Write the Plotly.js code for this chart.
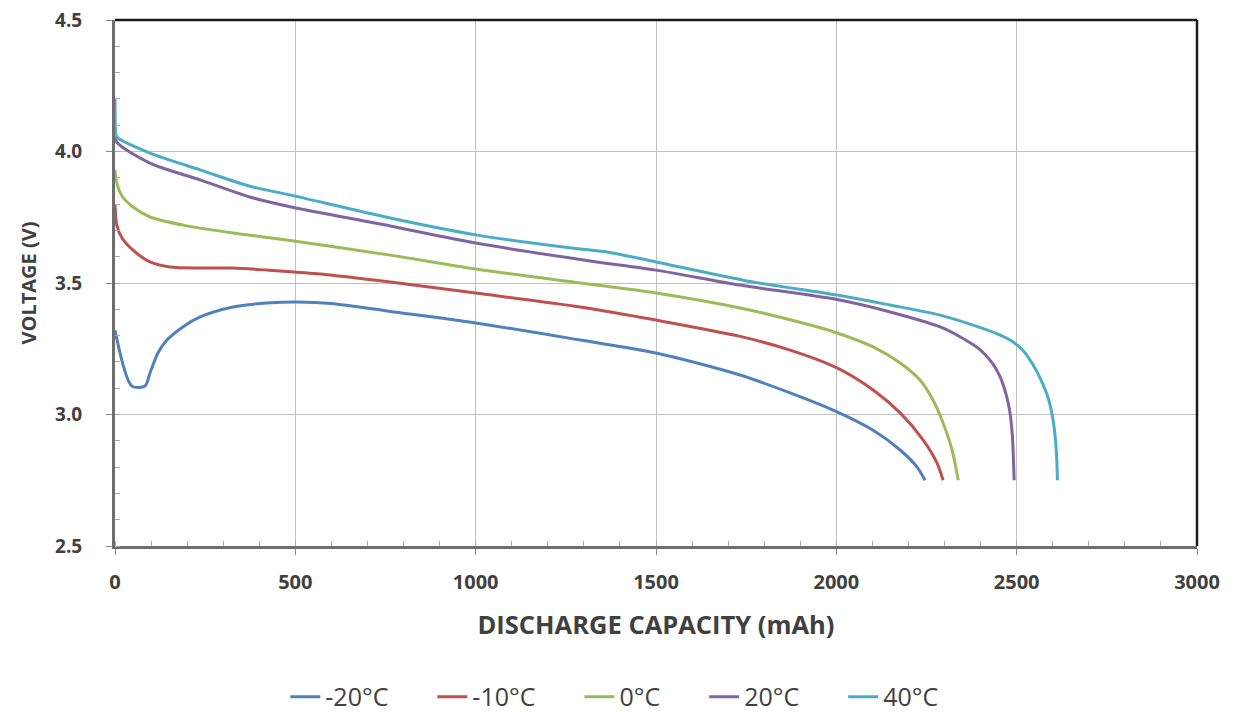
<!DOCTYPE html>
<html>
<head>
<meta charset="utf-8">
<script src="https://cdn.plot.ly/plotly-3.0.1.min.js"></script>
<style>html,body{margin:0;padding:0;background:#fff;}#chart{width:1236px;height:717px;}</style>
</head>
<body>
<div id="chart"></div>
<script>
const seriesNames = ['-20°C', '-10°C', '0°C', '20°C', '40°C'];
const seriesColors = ['#4F81BD', '#C0504D', '#9BBB59', '#8064A2', '#4BACC6'];

const capM20 = [0, 47, 83, 97, 119, 144, 190, 236, 327, 421, 505, 600, 763, 1000, 1290, 1500, 1733, 1872, 2002, 2102, 2177, 2224, 2246];
const voltM20 = [3.32, 3.108, 3.108, 3.158, 3.234, 3.283, 3.335, 3.371, 3.409, 3.424, 3.428, 3.422, 3.392, 3.348, 3.283, 3.234, 3.15, 3.082, 3.01, 2.94, 2.865, 2.80, 2.75];

const capM10 = [0, 5, 20, 50, 97, 152, 236, 327, 421, 560, 763, 1000, 1290, 1500, 1733, 1872, 2002, 2102, 2177, 2241, 2279, 2296];
const voltM10 = [3.80, 3.72, 3.67, 3.625, 3.58, 3.561, 3.557, 3.557, 3.549, 3.535, 3.504, 3.462, 3.409, 3.359, 3.297, 3.245, 3.177, 3.093, 3.006, 2.903, 2.816, 2.75];

const cap0 = [0, 5, 20, 50, 97, 189, 327, 466, 763, 1000, 1290, 1500, 1733, 1872, 2002, 2102, 2177, 2232, 2268, 2296, 2321, 2338];
const volt0 = [3.93, 3.88, 3.83, 3.789, 3.751, 3.72, 3.69, 3.665, 3.606, 3.553, 3.5, 3.462, 3.405, 3.36, 3.31, 3.257, 3.196, 3.131, 3.055, 2.968, 2.865, 2.75];

const cap20 = [0, 5, 97, 236, 374, 485, 763, 1000, 1317, 1500, 1733, 2002, 2149, 2288, 2350, 2400, 2430, 2452, 2468, 2480, 2488, 2493];
const volt20 = [4.07, 4.036, 3.956, 3.892, 3.827, 3.79, 3.717, 3.652, 3.584, 3.549, 3.492, 3.437, 3.39, 3.333, 3.29, 3.245, 3.2, 3.15, 3.09, 3.02, 2.92, 2.75];

const cap40 = [0, 2, 5, 97, 236, 374, 485, 763, 1000, 1290, 1364, 1500, 1752, 2002, 2149, 2288, 2379, 2440, 2490, 2520, 2545, 2568, 2588, 2602, 2610, 2613];
const volt40 = [4.2, 4.07, 4.055, 3.994, 3.93, 3.868, 3.835, 3.747, 3.683, 3.629, 3.618, 3.58, 3.508, 3.454, 3.416, 3.378, 3.34, 3.31, 3.276, 3.24, 3.19, 3.13, 3.06, 2.97, 2.86, 2.75];

const xTickVals = [0, 500, 1000, 1500, 2000, 2500, 3000];
const xTickText = ['0', '500', '1000', '1500', '2000', '2500', '3000'];
const yTickVals = [2.5, 3.0, 3.5, 4.0, 4.5];
const yTickText = ['2.5', '3.0', '3.5', '4.0', '4.5'];

const xs = [capM20, capM10, cap0, cap20, cap40];
const ys = [voltM20, voltM10, volt0, volt20, volt40];

const legendPad = '\u00a0\u00a0\u00a0\u00a0\u00a0\u00a0';
const traces = seriesNames.map((n, i) => ({
  type: 'scatter', mode: 'lines',
  name: n + (i < seriesNames.length - 1 ? legendPad : ''),
  x: xs[i], y: ys[i],
  line: {color: seriesColors[i], width: 3, shape: 'spline', smoothing: 0.8}
}));

const xTickFont = {family: 'Open Sans, sans-serif', size: 20, color: '#404040', weight: 'bold'};
const yTickFont = {family: 'Open Sans, sans-serif', size: 19, color: '#404040', weight: 'bold'};

const layout = {
  width: 1236, height: 717,
  margin: {l: 115, r: 39, t: 20, b: 171},
  paper_bgcolor: '#ffffff', plot_bgcolor: '#ffffff',
  showlegend: true,
  legend: {
    orientation: 'h', xref: 'container', yref: 'container',
    x: 0.497, xanchor: 'center', y: 0.028, yanchor: 'middle',
    font: {family: 'Open Sans, sans-serif', size: 25, color: '#404040'},
    itemwidth: 30, tracegroupgap: 0
  },
  xaxis: {
    range: [0, 3000], tickvals: xTickVals, ticktext: xTickText,
    showgrid: true, gridcolor: '#c0c0c0', gridwidth: 1.2,
    zeroline: false, showline: true, linecolor: '#6e6e6e', linewidth: 3,
    ticks: 'outside', ticklen: 6, tickcolor: '#8a8a8a', tickwidth: 1,
    ticklabelstandoff: 10,
    minor: {dtick: 100, ticks: 'inside', ticklen: 5, tickcolor: '#aaaaaa', showgrid: false},
    tickfont: xTickFont,
    title: {text: 'DISCHARGE CAPACITY (mAh)', font: {family: 'Open Sans, sans-serif', size: 25.5, color: '#404040', weight: 'bold'}, standoff: 23}
  },
  yaxis: {
    range: [2.5, 4.5], tickvals: yTickVals, ticktext: yTickText,
    showgrid: true, gridcolor: '#c0c0c0', gridwidth: 1.2,
    zeroline: false, showline: true, linecolor: '#6e6e6e', linewidth: 3,
    ticks: 'outside', ticklen: 6, tickcolor: '#8a8a8a', tickwidth: 1,
    ticklabelstandoff: 20,
    minor: {dtick: 0.1, ticks: 'inside', ticklen: 5, tickcolor: '#aaaaaa', showgrid: false},
    tickfont: yTickFont,
    title: {text: 'VOLTAGE (V)', font: {family: 'Open Sans, sans-serif', size: 20, color: '#404040', weight: 'bold'}, standoff: 14}
  },
  shapes: [
    {type: 'line', xref: 'paper', yref: 'paper', x0: 0, x1: 1, y0: 1, y1: 1, line: {color: '#1a1a1a', width: 2.5}},
    {type: 'line', xref: 'paper', yref: 'paper', x0: 1, x1: 1, y0: 0, y1: 1, line: {color: '#1a1a1a', width: 2.5}}
  ]
};

Plotly.newPlot('chart', traces, layout, {displayModeBar: false, responsive: false});
</script>
</body>
</html>
